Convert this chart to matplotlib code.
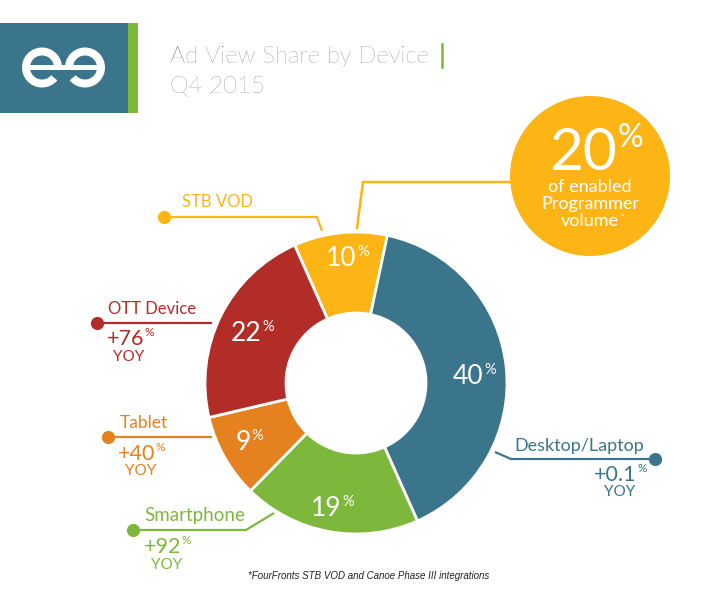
import matplotlib
matplotlib.use('Agg')
import matplotlib.pyplot as plt
from matplotlib.patches import Rectangle, Circle, Wedge

plt.rcParams['font.family'] = ['Lato', 'DejaVu Sans']

# data
devices = ['STB VOD', 'Desktop/Laptop', 'Smartphone', 'Tablet', 'OTT Device']
shares = [10, 40, 19, 9, 22]
yoy = [None, '+0.1', '+92', '+40', '+76']
blue = '#3B758C'
green = '#7DB83C'
gold = '#FDB515'
orange = '#E5811F'
red = '#B22D28'
colors = [gold, blue, green, orange, red]
title_lines = ['Ad View Share by Device', 'Q4 2015']
callout_value = '20'
callout_lines = ['of enabled', 'Programmer', 'volume']
footnote = '*FourFronts STB VOD and Canoe Phase III integrations'

fig = plt.figure(figsize=(7.28, 6.10), dpi=100)
ax = fig.add_axes([0, 0, 1, 1])

# donut (y axis is flipped below, so angles run clockwise on screen)
ax.pie(shares, colors=colors, center=(356, 383), radius=151, startangle=-114,
       counterclock=True, frame=True,
       wedgeprops=dict(width=81, edgecolor='white', linewidth=2))
ax.set_xlim(0, 728)
ax.set_ylim(610, 0)
ax.set_aspect('equal')
ax.axis('off')

# logo
ax.add_patch(Rectangle((0, 23), 128, 90, color=blue, lw=0))
ax.add_patch(Rectangle((128, 23), 10, 90, color=green, lw=0))
ax.add_patch(Wedge((42, 67.5), 20, 40, 360, width=8, color='white', lw=0))
ax.add_patch(Wedge((85, 67.5), 20, 180, 140 + 360, width=8, color='white', lw=0))
ax.add_patch(Rectangle((24, 65), 79, 5, color='white', lw=0))

# header
ax.text(170, 63, title_lines[0], fontsize=17.2, color='#5a5a5a', weight='light', va='baseline')
ax.text(170, 93, title_lines[1], fontsize=17.2, color='#5a5a5a', weight='light', va='baseline')
ax.plot([442, 442], [44, 67], color=green, lw=1.8)


def pct(x, y, value, size, color='white'):
    t = ax.text(x, y, value, fontsize=size, color=color, ha='left', va='baseline')
    fig.canvas.draw()
    bb = t.get_window_extent().transformed(ax.transData.inverted())
    ax.text(bb.x1 + 0.5, y - size * 0.55, '%', fontsize=size * 0.55, color=color,
            ha='left', va='baseline')


# share labels
pct(326, 266, '10', 19)
pct(453, 384, '40', 19)
pct(311, 516, '19', 19)
pct(236, 450, '9', 19)
pct(231, 341, '22', 19)

# callout
ax.add_patch(Circle((590, 176), 80, color=gold, lw=0))
ax.plot([510, 363, 357], [182, 182, 228], color=gold, lw=1.8)
pct(549, 170, callout_value, 42)
for y, s in zip([192, 209, 226], callout_lines):
    ax.text(590, y, s, fontsize=13, color='white', ha='center', va='baseline')
ax.text(620, 220, '*', fontsize=6, color='white')


def leader(xs, ys, color):
    ax.plot(xs, ys, color=color, lw=1.6, solid_capstyle='butt')
    ax.plot(xs[0], ys[0], 'o', color=color, ms=9.5, mew=0)


# leaders, labels
leader([164, 317, 322], [217, 217, 231], gold)
ax.text(182, 207, devices[0], fontsize=12, color=gold, va='baseline')

leader([97, 212], [323, 323], red)
ax.text(108, 314, devices[4], fontsize=12, color=red, va='baseline')
pct(107, 345, yoy[4], 15.5, red)
ax.text(129, 361, 'YOY', fontsize=11, color=red, ha='center', va='baseline')

leader([108, 212], [437, 437], orange)
ax.text(120, 428, devices[3], fontsize=12.5, color=orange, va='baseline')
pct(118, 460, yoy[3], 15.5, orange)
ax.text(141, 475, 'YOY', fontsize=11, color=orange, ha='center', va='baseline')

leader([133, 246, 274], [530, 530, 513], green)
ax.text(144, 521, devices[2], fontsize=13.5, color=green, va='baseline')
pct(144, 553, yoy[2], 15.5, green)
ax.text(167, 569, 'YOY', fontsize=11, color=green, ha='center', va='baseline')

leader([655, 511, 495], [459, 459, 452], blue)
ax.text(514, 451, devices[1], fontsize=13, color=blue, va='baseline')
pct(594, 481, yoy[1], 15.5, blue)
ax.text(620, 496, 'YOY', fontsize=11, color=blue, ha='center', va='baseline')

ax.text(248, 579, footnote, fontsize=7, style='italic', color='#222222',
        family=['Liberation Sans'], va='baseline')

fig.savefig('out.png', dpi=100)
